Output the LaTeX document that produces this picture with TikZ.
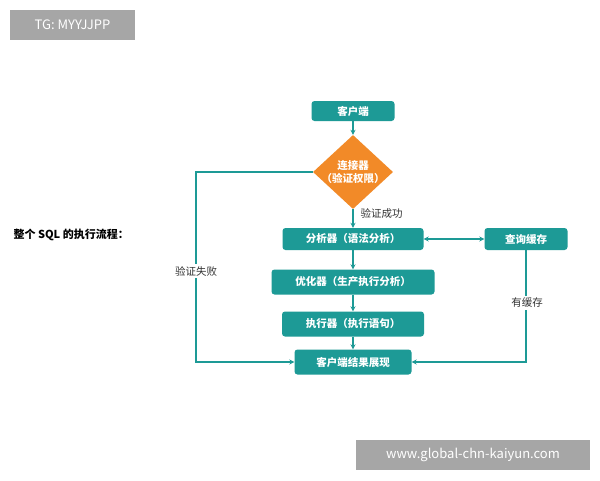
\documentclass[tikz,border=0pt]{standalone}
\usepackage{fontspec}
\setmainfont{Noto Sans CJK SC}
\usetikzlibrary{shapes.geometric,arrows.meta}
\definecolor{teal1}{HTML}{1D9A96}
\definecolor{org}{HTML}{F28A28}
\definecolor{gbox}{HTML}{A6A6A6}
\begin{document}
\begin{tikzpicture}[x=1pt,y=-1pt,
  box/.style={fill=teal1,text=white,rounded corners=3pt,minimum height=22pt,inner sep=0pt,font=\fontsize{10.5}{11}\selectfont\bfseries},
  ln/.style={draw=teal1,line width=1.2pt,-{Stealth[length=5pt,width=5pt]}},
  lab/.style={font=\fontsize{10.5}{11}\selectfont,text=black!80}]
\useasboundingbox[fill=white] (0,0) rectangle (600,480);
\node[fill=gbox,text=white,minimum width=125pt,minimum height=30pt,inner sep=0pt,font=\fontsize{13}{14}\selectfont] (tg) at (72.5,25) {TG: MYYJJPP};
\node[fill=gbox,text=white,minimum width=234pt,minimum height=30pt,inner sep=0pt,font=\fontsize{13}{14}\selectfont] (www) at (473,455) {www.global-chn-kaiyun.com};
\node[font=\fontsize{11}{12}\selectfont\bfseries,anchor=west] (title) at (10,235) {整个 SQL 的执行流程：};
\node[box,minimum width=83pt,minimum height=20pt] (c) at (353,111) {客户端};
\node[diamond,fill=org,text=white,minimum width=80pt,minimum height=74pt,inner sep=-7pt,align=center,font=\fontsize{10.5}{13}\selectfont\bfseries] (d) at (353,172) {连接器\\（验证权限）};
\node[box,minimum width=141pt] (a) at (353,239) {分析器（语法分析）};
\node[box,minimum width=83pt] (q) at (526,239) {查询缓存};
\node[box,minimum width=163pt,minimum height=25pt] (o) at (353,282) {优化器（生产执行分析）};
\node[box,minimum width=142pt,minimum height=25pt] (e) at (353,324) {执行器（执行语句）};
\node[box,minimum width=117pt,minimum height=25pt] (r) at (353,362) {客户端结果展现};
\draw[ln] (c) -- (d);
\draw[ln] (d) -- (a);
\draw[ln] (a) -- (o);
\draw[ln] (o) -- (e);
\draw[ln] (e) -- (r);
\draw[ln,{Stealth[length=5pt,width=5pt]}-{Stealth[length=5pt,width=5pt]}] (a) -- (q);
\draw[ln] (d.west) -| (196,362) -- (r.west);
\draw[ln] (q.south) |- (r.east);
\node[lab,anchor=west] (ok) at (357,214) {验证成功};
\node[lab,fill=white,inner sep=2pt] (fail) at (196,271) {验证失败};
\node[lab,fill=white,inner sep=2pt] (has) at (527,303) {有缓存};
\end{tikzpicture}
\end{document}
